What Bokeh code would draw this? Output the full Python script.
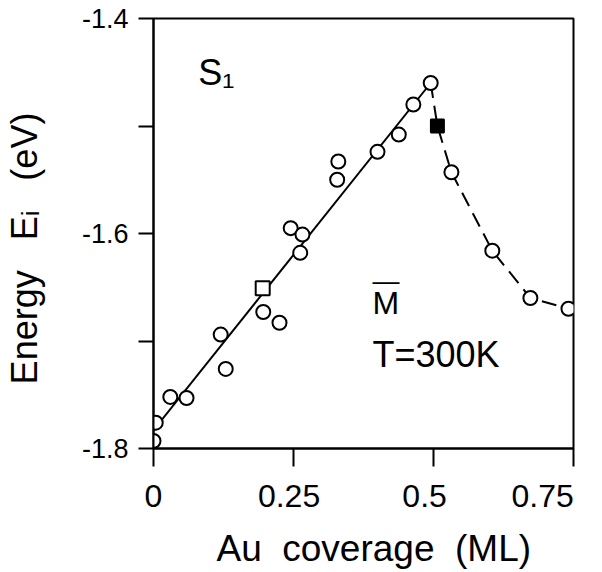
from bokeh.plotting import figure
from bokeh.models import Range1d, FixedTicker, Label, Title
from bokeh.embed import file_html
from bokeh.resources import INLINE

# --- data ---
circ_x = [0.000, 0.004, 0.030, 0.059, 0.120, 0.129, 0.196, 0.225, 0.245, 0.266, 0.262,
          0.328, 0.330, 0.400, 0.438, 0.464, 0.495, 0.532, 0.605, 0.673, 0.741]
circ_y = [-1.793, -1.776, -1.752, -1.753, -1.694, -1.726, -1.673, -1.683, -1.595, -1.601, -1.618,
          -1.550, -1.533, -1.524, -1.508, -1.480, -1.460, -1.543, -1.616, -1.660, -1.670]
open_sq_x = [0.195]
open_sq_y = [-1.651]
fill_sq_x = [0.507]
fill_sq_y = [-1.500]
solid_x = [0.000, 0.495]
solid_y = [-1.783, -1.460]
dash_x = [0.495, 0.507, 0.532, 0.605, 0.673, 0.741]
dash_y = [-1.460, -1.500, -1.543, -1.616, -1.660, -1.670]
xticks = [0.0, 0.25, 0.5, 0.75]
xtick_labels = ["0", "0.25", "0.5", "0.75"]
yticks = [-1.8, -1.6, -1.4]
ytick_labels = ["-1.8", "-1.6", "-1.4"]
yminor = [-1.7, -1.5]
x_title = "Au\u00a0 coverage\u00a0 (ML)"
y_title = "Energy\u00a0\u00a0 E\u1d62\u00a0\u00a0 (eV)"

FONT = "Liberation Sans"
NB = "\u00a0"
x_label_pad = [0, 1, 2, 3]   # trailing no-break spaces nudging labels left, as in the original
y_title_pad = 3              # trailing no-break spaces moving the y title down, as in the original
x_title_pad = 2              # leading no-break spaces moving the x title right, as in the original

p = figure(frame_width=420, frame_height=430, output_backend="svg", toolbar_location=None,
           x_range=Range1d(0, 0.75), y_range=Range1d(-1.8, -1.4),
           min_border_left=153, min_border_top=18, min_border_right=27, min_border_bottom=122)
p.background_fill_color = "white"
p.border_fill_color = "white"
p.outline_line_color = "black"
p.outline_line_width = 2
p.grid.visible = False

# axes
xa = p.xaxis[0]
xa.ticker = FixedTicker(ticks=xticks, minor_ticks=[])
xa.major_label_overrides = {xticks[i]: xtick_labels[i] + NB * x_label_pad[i] for i in range(4)}
ya = p.yaxis[0]
ya.ticker = FixedTicker(ticks=yticks, minor_ticks=yminor)
ya.major_label_overrides = {yticks[i]: ytick_labels[i] for i in range(3)}
for ax in (xa, ya):
    ax.axis_line_width = 2
    ax.major_tick_line_width = 2
    ax.minor_tick_line_width = 2
    ax.major_tick_in = 0
    ax.minor_tick_in = 0
    ax.major_label_text_font = FONT
    ax.major_label_text_color = "black"
xa.major_tick_out = 18
xa.major_label_text_font_size = "32px"
xa.major_label_standoff = 11
ya.major_tick_out = 15
ya.minor_tick_out = 15
ya.major_label_text_font_size = "27px"
ya.major_label_standoff = 10
ya.axis_label = y_title + NB * y_title_pad
ya.axis_label_text_font = FONT
ya.axis_label_text_font_size = "36px"
ya.axis_label_text_font_style = "normal"
ya.axis_label_text_color = "black"
ya.axis_label_standoff = 34

# x title as a side title
p.add_layout(Title(text=NB * x_title_pad + x_title, align="center", standoff=18,
                   text_font=FONT, text_font_size="37px", text_font_style="normal",
                   text_color="black"), "below")

# lines
p.line(solid_x, solid_y, line_color="black", line_width=2)
p.line(dash_x, dash_y, line_color="black", line_width=2, line_dash="15 8")

# markers
p.scatter(circ_x, circ_y, marker="circle", size=14, line_color="black", line_width=2,
          fill_color="white")
p.scatter(open_sq_x, open_sq_y, marker="square", size=14, line_color="black", line_width=2,
          fill_color="white")
p.scatter(fill_sq_x, fill_sq_y, marker="square", size=13, line_color="black", line_width=2,
          fill_color="black")

# annotations
p.add_layout(Label(x=0.080, y=-1.450, text="S\u2081", text_font=FONT, text_font_size="36px",
                   text_color="black", text_baseline="alphabetic"))
p.add_layout(Label(x=0.391, y=-1.665, text="M", text_font=FONT, text_font_size="32px",
                   text_color="black", text_baseline="alphabetic"))
p.add_layout(Label(x=0.391, y=-1.665, text="\u2014", y_offset=22, text_font=FONT,
                   text_font_size="27px", text_color="black", text_baseline="alphabetic"))
p.add_layout(Label(x=0.391, y=-1.713, text="T=300K", text_font=FONT, text_font_size="36px",
                   text_color="black", text_baseline="alphabetic"))

open("out.html", "w").write(file_html(p, INLINE))
